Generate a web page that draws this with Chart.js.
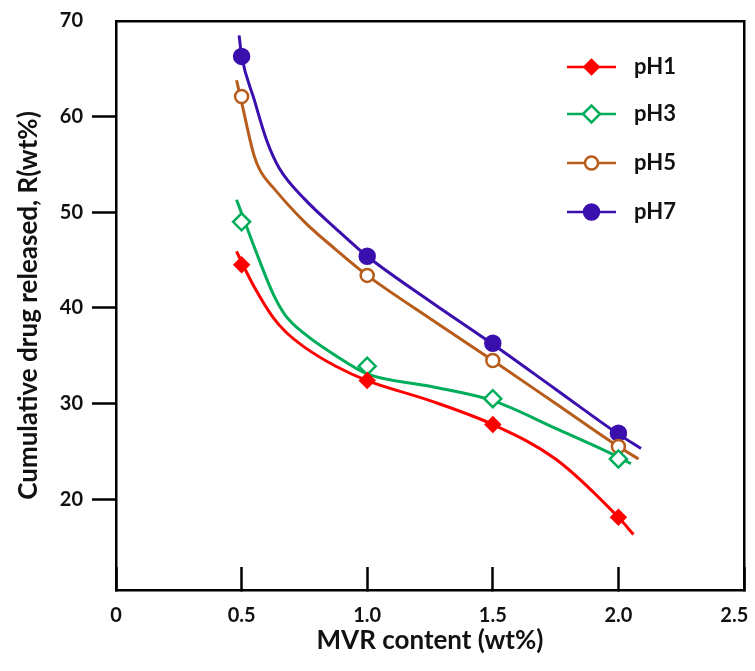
<!DOCTYPE html>
<html>
<head>
<meta charset="utf-8">
<script src="https://cdn.jsdelivr.net/npm/chart.js@4.4.1/dist/chart.umd.min.js"></script>
<style>
  html, body { margin: 0; padding: 0; background: #fff; }
  #wrap { width: 755px; height: 671px; }
</style>
</head>
<body>
<div id="wrap"><canvas id="chart" width="755" height="671"></canvas></div>
<script>
// measured release at each MVR loading
const mvrContent = [0.5, 1.0, 1.5, 2.0];
const ph1 = [44.5, 32.4, 27.8, 18.1];
const ph3 = [49.0, 33.9, 30.5, 24.2];
const ph5 = [62.1, 43.4, 34.5, 25.5];
const ph7 = [66.3, 45.4, 36.3, 26.9];

// smooth trend lines drawn through the data (slightly past both ends)
const fitXph1 = [0.48, 0.5, 0.55, 0.625, 0.675, 0.75, 0.875, 1.0, 1.25, 1.5, 1.75, 2.0, 2.06];
const fitYph1 = [45.9, 44.8, 42.2, 39.0, 37.5, 35.9, 33.9, 32.4, 30.3, 27.8, 24.2, 18.1, 16.3];
const fitXph3 = [0.48, 0.5, 0.55, 0.625, 0.675, 0.75, 0.875, 1.0, 1.25, 1.5, 1.75, 2.0, 2.05];
const fitYph3 = [51.3, 49.9, 46.4, 41.5, 39.2, 37.3, 35.0, 33.1, 31.8, 30.3, 27.4, 24.4, 23.7];
const fitXph5 = [0.48, 0.5, 0.55, 0.575, 0.625, 0.75, 0.875, 1.0, 1.25, 1.5, 1.75, 2.0, 2.08];
const fitYph5 = [63.8, 61.5, 55.9, 54.3, 52.6, 49.0, 46.1, 43.4, 38.9, 34.5, 30.0, 25.5, 24.2];
const fitXph7 = [0.49, 0.5, 0.55, 0.6, 0.65, 0.75, 0.875, 1.0, 1.25, 1.5, 1.75, 2.0, 2.09];
const fitYph7 = [68.5, 66.4, 61.8, 57.5, 54.6, 51.4, 48.3, 45.4, 40.7, 36.2, 31.5, 26.8, 25.3];

const xTicks = [0, 0.5, 1.0, 1.5, 2.0, 2.5];
const yTicks = [20, 30, 40, 50, 60, 70];

const FONT = 'Lato, "Open Sans", sans-serif';
const RED = '#ff0000';
const GREEN = '#00ad5a';
const BROWN = '#b85c1c';
const BLUE = '#3a0fae';

function pts(xs, ys) {
  return xs.map((x, i) => ({ x: x, y: ys[i] }));
}

const series = [
  { label: 'pH1', color: RED,   fx: fitXph1, fy: fitYph1, y: ph1, style: 'rectRot', radius: 7, fill: RED },
  { label: 'pH3', color: GREEN, fx: fitXph3, fy: fitYph3, y: ph3, style: 'rectRot', radius: 8.5, fill: '#fff' },
  { label: 'pH5', color: BROWN, fx: fitXph5, fy: fitYph5, y: ph5, style: 'circle',  radius: 6.5, fill: '#fff' },
  { label: 'pH7', color: BLUE,  fx: fitXph7, fy: fitYph7, y: ph7, style: 'circle',  radius: 7.5, fill: BLUE }
];

const datasets = [];
series.forEach(s => {
  datasets.push({
    label: s.label + ' fit',
    data: pts(s.fx, s.fy),
    showLine: true,
    borderColor: s.color,
    borderWidth: 3,
    pointRadius: 0,
    cubicInterpolationMode: 'monotone',
    order: 2
  });
  datasets.push({
    label: s.label,
    data: pts(mvrContent, s.y),
    showLine: false,
    pointStyle: s.style,
    pointRadius: s.radius,
    pointBorderWidth: 2.5,
    pointBorderColor: s.color,
    pointBackgroundColor: s.fill,
    order: 1
  });
});

// legend: short line with the marker on it, then the label
const sideLegend = {
  id: 'sideLegend',
  afterDatasetsDraw(chart) {
    const c = chart.ctx;
    const area = chart.chartArea;
    const rowY = [46, 93, 142, 191];
    const x0 = area.right - 177, x1 = area.right - 128;
    c.save();
    series.forEach((s, i) => {
      const y = area.top + rowY[i];
      c.strokeStyle = s.color;
      c.lineWidth = 2.5;
      c.beginPath();
      c.moveTo(x0, y);
      c.lineTo(x1, y);
      c.stroke();
      c.fillStyle = s.fill;
      c.strokeStyle = s.color;
      Chart.helpers.drawPoint(c, { pointStyle: s.style, radius: s.radius, borderWidth: 2.5, rotation: 0 }, (x0 + x1) / 2, y);
      c.fillStyle = '#111';
      c.font = 'bold 22px ' + FONT;
      c.textAlign = 'left';
      c.textBaseline = 'middle';
      c.fillText(s.label, area.right - 110, y);
    });
    c.restore();
  }
};

new Chart(document.getElementById('chart'), {
  type: 'scatter',
  data: { datasets: datasets },
  plugins: [sideLegend],
  options: {
    responsive: false,
    animation: false,
    layout: { padding: { top: 18, right: 10, left: 0, bottom: 0 } },
    plugins: {
      legend: { display: false },
      tooltip: { enabled: false }
    },
    scales: {
      x: {
        type: 'linear',
        position: 'bottom',
        min: 0,
        max: 2.5,
        afterBuildTicks: s => { s.ticks = xTicks.map(v => ({ value: v })); },
        // ticks point inward, so the label gap is large; keep it from shrinking the plot
        afterFit: s => { s.height = 81; s.paddingLeft = 0; s.paddingRight = 0; },
        ticks: {
          // last label sits a little inside the right edge
          callback: v => (v === 0 ? '0' : v === 2.5 ? '2.5    ' : Number(v).toFixed(1)),
          font: { family: FONT, size: 20, weight: 'bold' },
          color: '#111',
          padding: 37,
          maxRotation: 0
        },
        grid: { drawOnChartArea: false, tickLength: -23, tickWidth: 2.5, tickColor: '#000' },
        border: { color: '#000', width: 2.5 },
        title: {
          display: true,
          text: 'MVR content (wt%)',
          font: { family: FONT, size: 26, weight: 'bold' },
          color: '#111',
          padding: { top: 0, bottom: 15 }
        }
      },
      y: {
        type: 'linear',
        position: 'left',
        min: 10.5,
        max: 70,
        afterBuildTicks: s => { s.ticks = yTicks.map(v => ({ value: v })); },
        afterFit: s => { s.width = 116; },
        ticks: {
          font: { family: FONT, size: 20, weight: 'bold' },
          color: '#111',
          padding: 9
        },
        grid: {
          drawOnChartArea: false,
          tickLength: 24,
          tickWidth: 2.5,
          tickColor: c => (c.tick && c.tick.value === 70 ? 'rgba(0,0,0,0)' : '#000')
        },
        border: { color: '#000', width: 2.5 },
        title: {
          display: true,
          text: 'Cumulative drug released, R(wt%)',
          font: { family: FONT, size: 26, weight: 'bold' },
          color: '#111',
          padding: { top: 13, bottom: 0 }
        }
      },
      xTop: {
        type: 'linear',
        position: 'top',
        display: true,
        min: 0,
        max: 2.5,
        afterFit: s => { s.height = 0; },
        ticks: { display: false },
        grid: { drawOnChartArea: false, drawTicks: false },
        border: { color: '#000', width: 2.5 }
      },
      yRight: {
        type: 'linear',
        position: 'right',
        display: true,
        min: 10.5,
        max: 70,
        afterFit: s => { s.width = 0; },
        ticks: { display: false },
        grid: { drawOnChartArea: false, drawTicks: false },
        border: { color: '#000', width: 2.5 }
      }
    }
  }
});
</script>
</body>
</html>
